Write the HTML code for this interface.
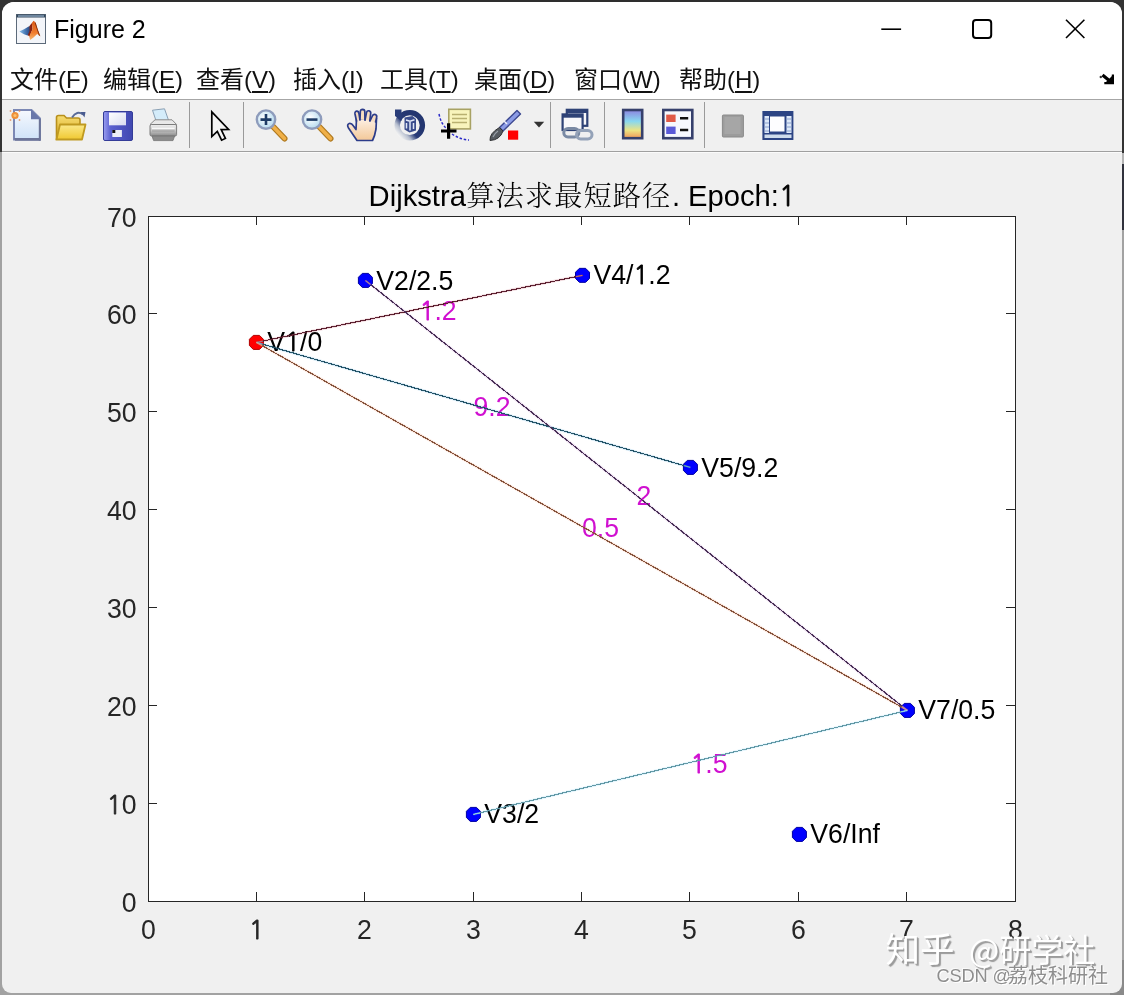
<!DOCTYPE html>
<html><head><meta charset="utf-8"><title>Figure 2</title>
<style>
html,body{margin:0;padding:0;width:1124px;height:995px;overflow:hidden;}
body{position:relative;background:#a2a2a2;}
.bd{position:absolute;}
#win{position:absolute;left:2px;top:2px;width:1120px;height:991px;background:#f0f0f0;border-radius:12px 12px 9px 9px;overflow:hidden;}
#tb{position:absolute;left:0;top:0;width:1120px;height:97px;background:#fff;border-bottom:1px solid #a6a6a6;}
#tools{position:absolute;left:0;top:98px;width:1120px;height:51px;background:#f0f0f0;border-bottom:1px solid #a0a0a0;}
.t{position:absolute;white-space:nowrap;}
.ui{font-family:"Liberation Sans","Noto Sans CJK SC",sans-serif;color:#000;}
.menu{position:absolute;top:64px;font-size:24px;line-height:32px;font-family:"Liberation Sans","Noto Sans CJK SC",sans-serif;color:#111;white-space:nowrap;}
.menu u{text-decoration:underline;text-underline-offset:3px;text-decoration-thickness:2px;}
svg{position:absolute;left:0;top:0;}
svg text{stroke-width:0;}
svg text .n1{stroke-width:0.75px;}
.wm1{position:absolute;top:926px;font-family:"Noto Sans CJK SC",sans-serif;font-size:32px;line-height:44px;color:#fff;white-space:nowrap;text-shadow:2px 2px 1px #9a9a9a,1px 1px 0 #bdbdbd;}
.wm2{position:absolute;font-family:"Liberation Sans","Noto Sans CJK SC",sans-serif;line-height:24px;color:#8e8e8e;white-space:nowrap;text-shadow:1px 1px 0 #fff,-1px -1px 0 #fafafa;}
</style></head>
<body>
<div class="bd" style="left:0;top:0;width:1124px;height:14px;background:#2e2e2e"></div>
<div class="bd" style="left:0;top:0;width:14px;height:152px;background:#333"></div>
<div class="bd" style="left:1110px;top:0;width:14px;height:153px;background:#333"></div>
<div class="bd" style="left:1110px;top:153px;width:14px;height:11px;background:#b4b4b4"></div>
<div class="bd" style="left:1110px;top:164px;width:14px;height:66px;background:#30323c"></div>
<div class="bd" style="left:1110px;top:960px;width:14px;height:35px;background:#8a8a8a"></div>
<div id="win">
  <div id="tb"></div>
  <div id="tools"></div>
  <div style="position:absolute;left:0;top:150px;width:1120px;height:1px;background:#fbfbfb"></div>
</div>

<!-- title bar -->
<div class="t ui" style="left:54px;top:13px;font-size:25px;line-height:32px;">Figure 2</div>

<!-- menu -->
<div class="menu" style="left:10px">文件(<u>F</u>)</div>
<div class="menu" style="left:103px">编辑(<u>E</u>)</div>
<div class="menu" style="left:196px">查看(<u>V</u>)</div>
<div class="menu" style="left:293px">插入(<u>I</u>)</div>
<div class="menu" style="left:380px">工具(<u>T</u>)</div>
<div class="menu" style="left:474px">桌面(<u>D</u>)</div>
<div class="menu" style="left:574px">窗口(<u>W</u>)</div>
<div class="menu" style="left:679px">帮助(<u>H</u>)</div>

<!-- icons -->
<svg width="1124" height="160" viewBox="0 0 1124 160">
<defs>
  <linearGradient id="gPage" x1="0" y1="0" x2="0" y2="1"><stop offset="0" stop-color="#f6f9fe"/><stop offset="1" stop-color="#cfe2f8"/></linearGradient>
  <linearGradient id="gFold" x1="0" y1="0" x2="0" y2="1"><stop offset="0" stop-color="#fbe98a"/><stop offset="1" stop-color="#f0c830"/></linearGradient>
  <linearGradient id="gFoldB" x1="0" y1="0" x2="0" y2="1"><stop offset="0" stop-color="#f6dc70"/><stop offset="1" stop-color="#d8a820"/></linearGradient>
  <linearGradient id="gFlop" x1="0" y1="0" x2="1" y2="0"><stop offset="0" stop-color="#9a9ef0"/><stop offset="0.25" stop-color="#5a60d0"/><stop offset="1" stop-color="#4048b0"/></linearGradient>
  <linearGradient id="gLabel" x1="0" y1="0" x2="1" y2="1"><stop offset="0" stop-color="#ffffff"/><stop offset="1" stop-color="#d8dcf0"/></linearGradient>
  <linearGradient id="gPrn" x1="0" y1="0" x2="0" y2="1"><stop offset="0" stop-color="#f0f0f0"/><stop offset="0.5" stop-color="#c8c8c8"/><stop offset="1" stop-color="#8a8a8a"/></linearGradient>
  <radialGradient id="gLens" cx="0.4" cy="0.4" r="0.6"><stop offset="0" stop-color="#ffffff"/><stop offset="1" stop-color="#b8dcf0"/></radialGradient>
  <linearGradient id="gHand" x1="0" y1="0" x2="0" y2="1"><stop offset="0" stop-color="#fdf0e4"/><stop offset="1" stop-color="#f3c898"/></linearGradient>
  <linearGradient id="gCbar" x1="0" y1="0" x2="0" y2="1"><stop offset="0" stop-color="#8c84e0"/><stop offset="0.4" stop-color="#88d8f0"/><stop offset="0.72" stop-color="#ece484"/><stop offset="1" stop-color="#f09858"/></linearGradient>
  <linearGradient id="gRot" x1="0" y1="0.85" x2="0.6" y2="0.3"><stop offset="0" stop-color="#f4f4f4"/><stop offset="0.3" stop-color="#b8c0d0"/><stop offset="0.6" stop-color="#2a3c78"/><stop offset="1" stop-color="#243670"/></linearGradient>
  <linearGradient id="gML" x1="0" y1="0" x2="1" y2="0"><stop offset="0" stop-color="#5c9ad0"/><stop offset="0.45" stop-color="#2a4a86"/><stop offset="0.55" stop-color="#a02810"/><stop offset="0.75" stop-color="#f07020"/><stop offset="1" stop-color="#8a3a10"/></linearGradient>
  <linearGradient id="gBlue" x1="0" y1="0" x2="1" y2="0"><stop offset="0" stop-color="#8cc0ea"/><stop offset="0.5" stop-color="#4a7cb8"/><stop offset="1" stop-color="#263c74"/></linearGradient>
  <linearGradient id="gOr" x1="0" y1="0" x2="0" y2="1"><stop offset="0" stop-color="#d85a18"/><stop offset="0.6" stop-color="#f07a2a"/><stop offset="1" stop-color="#f8b870"/></linearGradient>
</defs>

<!-- title bar icon -->
<g>
  <rect x="16.5" y="14.5" width="29" height="29" fill="#f3f5f9" stroke="#5c6a7a" stroke-width="1"/>
  <rect x="16.5" y="14.5" width="29" height="3" fill="#34485c"/>
  <line x1="18" y1="16" x2="44" y2="16" stroke="#a8c4e0" stroke-width="1"/>
  <path d="M19.3,31.6 L24,29.2 L29.5,26 L31,28.5 L29,34.5 L27.5,35.5 L24,34.2 Z" fill="url(#gBlue)"/>
  <path d="M29.5,26 L31.8,23 L32.6,29 L29.6,36.5 L27.8,35.2 L29.6,31 Z" fill="#8a2412"/>
  <path d="M31.8,23 L33.6,20.8 L35.6,22.6 L37.6,29 L40.3,36.2 L37.2,34 L33.5,37.5 L30.2,40 L29.2,36.6 L32.6,29 Z" fill="url(#gOr)"/>
  <path d="M35.6,22.6 L37.6,29 L40.3,36.2 L38.8,35.2 L36.4,28 L34.8,23.2 Z" fill="#803010"/>
</g>

<!-- window buttons -->
<g stroke="#000" fill="none" stroke-width="1.6">
  <line x1="881.3" y1="29.2" x2="901.1" y2="29.2"/>
  <rect x="973" y="20" width="18.2" height="18" rx="3" ry="3" stroke-width="2"/>
  <line x1="1066" y1="19.8" x2="1084.4" y2="38"/>
  <line x1="1084.4" y1="19.8" x2="1066" y2="38"/>
</g>

<!-- menu right arrow -->
<g fill="#000">
  <line x1="1102.5" y1="75" x2="1111" y2="82" stroke="#000" stroke-width="3.2"/>
  <path d="M1114,74.5 L1114,84.2 L1104.3,84.2 L1104.3,82 L1111.8,82 L1111.8,74.5 Z"/>
  <path d="M1106,82 L1112,76 L1112,82 Z"/>
  <circle cx="1100.8" cy="77" r="1.2" fill="#333"/>
</g>

<!-- toolbar separators -->
<g stroke="#9a9a9a" stroke-width="1">
  <line x1="189.5" y1="102" x2="189.5" y2="148"/>
  <line x1="243.5" y1="102" x2="243.5" y2="148"/>
  <line x1="550.5" y1="102" x2="550.5" y2="148"/>
  <line x1="604.5" y1="102" x2="604.5" y2="148"/>
  <line x1="704.5" y1="102" x2="704.5" y2="148"/>
</g>

<!-- 1 new -->
<g>
  <path d="M14,110 L31.5,110 L40,118.5 L40,139.5 L14,139.5 Z" fill="url(#gPage)" stroke="#7c88b4" stroke-width="2"/>
  <path d="M14,138 L40,138 L40,140.8 L15,140.8 Z" fill="#6c7498"/>
  <path d="M38.8,119 L40.8,119 L40.8,140.8 L38.8,140.8 Z" fill="#6c7498"/>
  <path d="M31,109.5 L40.8,119.3 L31,119.3 Z" fill="#6a78aa"/>
  <circle cx="15" cy="115.5" r="3.6" fill="#f09038"/>
  <circle cx="15" cy="115.5" r="1.6" fill="#fbc070"/>
  <g fill="#e88a50" opacity="0.8"><circle cx="10.5" cy="111" r="0.9"/><circle cx="19.5" cy="111" r="0.9"/><circle cx="10.5" cy="120" r="0.9"/><circle cx="19.5" cy="120" r="0.9"/></g>
</g>

<!-- 2 open -->
<g>
  <path d="M56.5,139 L56.5,117.5 Q56.5,115.5 58.5,115.5 L64,115.5 L66.5,118 L78,118 Q80,118 80,120 L80,124 Z" fill="url(#gFoldB)" stroke="#b8901c" stroke-width="1.6"/>
  <path d="M60,124.5 L85.5,124.5 L82,139.5 L56.5,139.5 Z" fill="url(#gFold)" stroke="#c09a20" stroke-width="1.8" stroke-linejoin="round"/>
  <path d="M72,117.5 Q77,110 83,114.5" fill="none" stroke="#5a6c98" stroke-width="2"/>
  <path d="M80.5,112 L85.5,112 L84.5,117.5 Z" fill="#4a5c90"/>
</g>

<!-- 3 save -->
<g>
  <rect x="103.5" y="111.5" width="29" height="29" rx="1.5" fill="url(#gFlop)" stroke="#343c98" stroke-width="1"/>
  <rect x="109" y="112.5" width="17" height="12.8" fill="url(#gLabel)"/>
  <rect x="112.3" y="130" width="9.6" height="7" fill="#eceef6"/>
  <rect x="112.3" y="130" width="3" height="3" fill="#111"/>
</g>

<!-- 4 print -->
<g>
  <path d="M152.5,110.2 L164.5,108.8 L168.8,121 L156.5,122.2 Z" fill="#d4ecfa" stroke="#8aa0b4" stroke-width="1"/>
  <path d="M150,124.5 L155,119.8 L172,119.8 L176.6,124.5 Z" fill="#e8e8e8" stroke="#8a8a8a" stroke-width="1"/>
  <rect x="150" y="124.5" width="26.6" height="11.5" rx="1.5" fill="url(#gPrn)" stroke="#7c7c7c" stroke-width="1"/>
  <line x1="152" y1="128.3" x2="174.6" y2="128.3" stroke="#f8f8f8" stroke-width="1.4"/>
  <line x1="152" y1="131" x2="174.6" y2="131" stroke="#9a9a9a" stroke-width="1"/>
  <path d="M152,136 L174.6,136 L173,140.6 L153.6,140.6 Z" fill="#8c8c8c" stroke="#727272" stroke-width="0.8"/>
</g>

<!-- 5 arrow -->
<path d="M211.8,111.8 L211.8,136.5 L217.3,131.3 L221.6,140.2 L225.4,138.4 L221.2,129.6 L228.6,129.4 Z" fill="#f4f4f4" stroke="#000" stroke-width="1.7" stroke-linejoin="miter"/>

<!-- 6 zoom in -->
<g>
  <line x1="273.5" y1="127" x2="284.5" y2="138.5" stroke="#b07a20" stroke-width="6" stroke-linecap="round"/>
  <line x1="273.5" y1="127" x2="284.5" y2="138.5" stroke="#f0b048" stroke-width="3.6" stroke-linecap="round"/>
  <circle cx="266" cy="119.6" r="9.2" fill="url(#gLens)" stroke="#8e9cbc" stroke-width="2.4"/>
  <path d="M260.5,119.6 H271.5 M266,114.1 V125.1" stroke="#1e3c66" stroke-width="2.6"/>
</g>

<!-- 7 zoom out -->
<g>
  <line x1="319.5" y1="127" x2="330.5" y2="138.5" stroke="#b07a20" stroke-width="6" stroke-linecap="round"/>
  <line x1="319.5" y1="127" x2="330.5" y2="138.5" stroke="#f0b048" stroke-width="3.6" stroke-linecap="round"/>
  <circle cx="312" cy="119.6" r="9.2" fill="url(#gLens)" stroke="#8e9cbc" stroke-width="2.4"/>
  <path d="M306.5,119.6 H317.5" stroke="#1e3c66" stroke-width="2.6"/>
</g>

<!-- 8 hand -->
<g stroke="#2c3c8a" stroke-width="1.7" stroke-linejoin="round" stroke-linecap="round">
  <path d="M357,140.5 L348.5,128 Q346.5,124.5 349.2,123.5 Q351.5,123 353.5,126 L356,129.5 L356.5,119 L376.5,118.5 L376,129 Q375,135.5 372.5,140.5 Z" fill="url(#gHand)"/>
  <path d="M356.5,121 L355,114 Q354.6,111.5 356.6,111.2 Q358.6,111 359,113.5 L360,120" fill="#f6dcc0"/>
  <path d="M360,119.5 L360.3,111.5 Q360.5,109.3 362.6,109.3 Q364.8,109.4 364.8,111.6 L365,120" fill="#f6dcc0"/>
  <path d="M365,120 L366.5,112.5 Q367,110.5 369,110.8 Q371,111.2 370.7,113.5 L369.8,120.5" fill="#f6dcc0"/>
  <path d="M370,121 L372.6,115.5 Q373.6,113.8 375.4,114.6 Q377.2,115.5 376.6,117.5 L375.6,122" fill="#f6dcc0"/>
</g>
<!-- 9 rotate -->
<g>
  <circle cx="409.8" cy="125.2" r="12.6" fill="none" stroke="url(#gRot)" stroke-width="5.4"/>
  <path d="M395,109.5 L401.5,109.5 L401.5,121 L395,116 Z" fill="#283c78"/>
  <path d="M404.5,117.5 L412.5,116 L416,119 L416,130.5 L409.5,132.5 L404.5,129.5 Z" fill="#3a4c8c"/>
  <path d="M406,120 L410,121.3 L414.5,119.8 M410,121.3 L410,130.5 M406.5,123 L406.5,128.5 M413.5,123 L413.5,129" fill="none" stroke="#dfe6f6" stroke-width="1.5"/>
</g>
<!-- 10 data cursor -->
<g>
  <rect x="448.8" y="109.3" width="21.6" height="19.6" fill="#f8f4bc" stroke="#a8a264" stroke-width="1.6"/>
  <path d="M452,114.5 H467 M452,118.5 H467 M452,122.5 H467" stroke="#b8b070" stroke-width="1.4"/>
  <path d="M439,114 Q441,124 447,129 M452,134 Q460,139.5 469,140" fill="none" stroke="#2a2ac8" stroke-width="1.5" stroke-dasharray="2.5 1.8"/>
  <path d="M441,131 H456.5 M448.6,123.2 V138.8" stroke="#000" stroke-width="3.2"/>
</g>

<!-- 11 brush -->
<g>
  <path d="M517,110.5 L520.5,114 L503,131 L499.5,127.5 Z" fill="#8c9ce6" stroke="#3c4890" stroke-width="1.4" stroke-linejoin="round"/>
  <line x1="507" y1="124" x2="504" y2="121" stroke="#f0f0f8" stroke-width="1.5"/>
  <path d="M499.5,127.5 L503,131 Q500,140 490,140.5 Q489.5,133 499.5,127.5 Z" fill="#555a60" stroke="#303234" stroke-width="1"/>
  <path d="M493,137 Q495,133 498,131" stroke="#9aa0a8" stroke-width="1.2" fill="none"/>
  <rect x="508" y="130.5" width="10.2" height="9.2" fill="#ff0000"/>
  <path d="M533.8,121.8 L544.2,121.8 L539,127.6 Z" fill="#333"/>
</g>

<!-- 12 link -->
<g>
  <rect x="566.8" y="109.8" width="20.5" height="16" fill="#f8f8fa" stroke="#2e4276" stroke-width="2.2"/>
  <line x1="566.8" y1="111.5" x2="587.3" y2="111.5" stroke="#2e4276" stroke-width="3"/>
  <rect x="562.6" y="114.4" width="20" height="15.6" fill="#f8f8fa" stroke="#2e4276" stroke-width="2.2"/>
  <line x1="562.6" y1="116.2" x2="582.6" y2="116.2" stroke="#2e4276" stroke-width="3"/>
  <rect x="563.8" y="128.5" width="15" height="8.5" rx="4.2" fill="none" stroke="#7a8aa4" stroke-width="3"/>
  <rect x="576.5" y="130.5" width="15.5" height="8.5" rx="4.2" fill="none" stroke="#94a2b8" stroke-width="3"/>
</g>

<!-- 13 colorbar -->
<rect x="623.2" y="110" width="19" height="28.2" fill="url(#gCbar)" stroke="#36406c" stroke-width="2.6"/>

<!-- 14 legend -->
<g>
  <rect x="663.3" y="110" width="29" height="28.2" fill="#f6f8fe" stroke="#36406c" stroke-width="2.6"/>
  <rect x="666.2" y="114.6" width="9.4" height="7.4" fill="#e05a48"/>
  <rect x="666.2" y="126.6" width="9.4" height="7.4" fill="#5a5ad8"/>
  <path d="M680,118.2 H688.2 M680,130 H688.2" stroke="#111" stroke-width="2.4"/>
</g>

<!-- 15 grey box -->
<g>
  <rect x="722.4" y="115" width="21" height="22" rx="1" fill="#9c9c9c" stroke="#8a8a8a" stroke-width="1"/>
  <rect x="724.5" y="117" width="16" height="17" fill="#a6a6a6"/>
</g>

<!-- 16 plot tools -->
<g>
  <rect x="762.4" y="111" width="31" height="29" fill="#2c4484"/>
  <rect x="764.5" y="116" width="4.5" height="17" fill="#dde8f8"/>
  <rect x="786.5" y="116" width="5" height="17" fill="#dde8f8"/>
  <rect x="764.5" y="134.5" width="27" height="3.5" fill="#cfdcec"/>
  <rect x="770" y="116.5" width="14.5" height="15" fill="#fdfdff"/>
  <path d="M764.5,119 H769 M764.5,123 H769 M764.5,127 H769 M764.5,131 H769 M786.5,119 H791.5 M786.5,123 H791.5 M786.5,127 H791.5 M786.5,131 H791.5" stroke="#8aa0cc" stroke-width="1"/>
</g>

</svg>

<!-- plot -->
<svg width="1124" height="995" viewBox="0 0 1124 995">
<rect x="148.5" y="216.5" width="867" height="685" fill="#fff" stroke="#262626" stroke-width="1"/>
<path d="M256.5 901V892M256.5 216V225M364.5 901V892M364.5 216V225M473.5 901V892M473.5 216V225M581.5 901V892M581.5 216V225M689.5 901V892M689.5 216V225M798.5 901V892M798.5 216V225M906.5 901V892M906.5 216V225M148 803.5H157M1015 803.5H1006M148 705.5H157M1015 705.5H1006M148 607.5H157M1015 607.5H1006M148 509.5H157M1015 509.5H1006M148 411.5H157M1015 411.5H1006M148 313.5H157M1015 313.5H1006" stroke="#262626" stroke-width="1" fill="none" shape-rendering="crispEdges"/>
<g font-family="Liberation Sans, Arial, Helvetica, sans-serif" font-size="26.67" fill="#262626" stroke="#262626">
<text transform="translate(148.50,939.00) scale(1,1.04)" text-anchor="middle">0</text>
<text transform="translate(256.50,939.00) scale(1,1.04)" text-anchor="middle"><tspan font-family="NanumGothic" font-size="24.71" class="n1">1</tspan></text>
<text transform="translate(364.50,939.00) scale(1,1.04)" text-anchor="middle">2</text>
<text transform="translate(473.50,939.00) scale(1,1.04)" text-anchor="middle">3</text>
<text transform="translate(581.50,939.00) scale(1,1.04)" text-anchor="middle">4</text>
<text transform="translate(689.50,939.00) scale(1,1.04)" text-anchor="middle">5</text>
<text transform="translate(798.50,939.00) scale(1,1.04)" text-anchor="middle">6</text>
<text transform="translate(906.50,939.00) scale(1,1.04)" text-anchor="middle">7</text>
<text transform="translate(1015.50,939.00) scale(1,1.04)" text-anchor="middle">8</text>
<text transform="translate(136.60,912.00) scale(1,1.04)" text-anchor="end">0</text>
<text transform="translate(136.60,814.00) scale(1,1.04)" text-anchor="end"><tspan font-family="NanumGothic" font-size="24.71" class="n1">1</tspan>0</text>
<text transform="translate(136.60,716.00) scale(1,1.04)" text-anchor="end">20</text>
<text transform="translate(136.60,618.00) scale(1,1.04)" text-anchor="end">30</text>
<text transform="translate(136.60,520.00) scale(1,1.04)" text-anchor="end">40</text>
<text transform="translate(136.60,422.00) scale(1,1.04)" text-anchor="end">50</text>
<text transform="translate(136.60,324.00) scale(1,1.04)" text-anchor="end">60</text>
<text transform="translate(136.60,227.00) scale(1,1.04)" text-anchor="end">70</text>
</g>
<g font-size="29.2" fill="#000" stroke="#000" font-family="Liberation Sans, Arial, sans-serif"><text transform="translate(368.6,205.9) scale(1,1.04)">Dijkstra</text><text transform="translate(671.9,205.9) scale(1,1.04)">. Epoch:<tspan font-family="NanumGothic" font-size="27.06" class="n1">1</tspan></text></g>
<text x="466.3" y="206.4" font-size="28.2" letter-spacing="1.1" fill="#000" font-family="Noto Serif CJK SC, serif" font-weight="300">算法求最短路径</text>
<polygon points="253.30,335.40 259.50,335.40 263.40,339.30 263.40,345.50 259.50,349.40 253.30,349.40 249.40,345.50 249.40,339.30" fill="#ff0000" stroke="#b00000" stroke-width="1"/>
<polygon points="362.30,273.40 368.50,273.40 372.40,277.30 372.40,283.50 368.50,287.40 362.30,287.40 358.40,283.50 358.40,277.30" fill="#0000ff" stroke="#0000a0" stroke-width="1"/>
<polygon points="470.30,807.40 476.50,807.40 480.40,811.30 480.40,817.50 476.50,821.40 470.30,821.40 466.40,817.50 466.40,811.30" fill="#0000ff" stroke="#0000a0" stroke-width="1"/>
<polygon points="579.40,268.35 585.60,268.35 589.50,272.25 589.50,278.45 585.60,282.35 579.40,282.35 575.50,278.45 575.50,272.25" fill="#0000ff" stroke="#0000a0" stroke-width="1"/>
<polygon points="687.30,460.40 693.50,460.40 697.40,464.30 697.40,470.50 693.50,474.40 687.30,474.40 683.40,470.50 683.40,464.30" fill="#0000ff" stroke="#0000a0" stroke-width="1"/>
<polygon points="796.30,827.40 802.50,827.40 806.40,831.30 806.40,837.50 802.50,841.40 796.30,841.40 792.40,837.50 792.40,831.30" fill="#0000ff" stroke="#0000a0" stroke-width="1"/>
<polygon points="904.30,703.40 910.50,703.40 914.40,707.30 914.40,713.50 910.50,717.40 904.30,717.40 900.40,713.50 900.40,707.30" fill="#0000ff" stroke="#0000a0" stroke-width="1"/>
<g font-family="Liberation Sans, Arial, Helvetica, sans-serif" font-size="26.67" fill="#000" stroke="#000">
<text transform="translate(267.30,351.40) scale(1,1.04)" >V<tspan font-family="NanumGothic" font-size="24.71" class="n1">1</tspan>/0</text>
<text transform="translate(376.30,289.60) scale(1,1.04)" >V2/2.5</text>
<text transform="translate(484.30,822.50) scale(1,1.04)" >V3/2</text>
<text transform="translate(593.40,283.70) scale(1,1.04)" >V4/<tspan font-family="NanumGothic" font-size="24.71" class="n1">1</tspan>.2</text>
<text transform="translate(701.30,476.60) scale(1,1.04)" >V5/9.2</text>
<text transform="translate(810.30,842.50) scale(1,1.04)" >V6/Inf</text>
<text transform="translate(918.30,718.70) scale(1,1.04)" >V7/0.5</text>
</g>
<g font-family="Liberation Sans, Arial, Helvetica, sans-serif" font-size="26.67" fill="#d010d0" stroke="#d010d0">
<text transform="translate(419.45,319.88) scale(1,1.04)" ><tspan font-family="NanumGothic" font-size="24.71" class="n1">1</tspan>.2</text>
<text transform="translate(473.40,415.90) scale(1,1.04)" >9.2</text>
<text transform="translate(581.90,537.30) scale(1,1.04)" >0.5</text>
<text transform="translate(636.40,505.30) scale(1,1.04)" >2</text>
<text transform="translate(690.40,772.60) scale(1,1.04)" ><tspan font-family="NanumGothic" font-size="24.71" class="n1">1</tspan>.5</text>
</g>
<line x1="256.4" y1="342.4" x2="582.5" y2="275.35" stroke="#a2142f" stroke-width="2.6" stroke-opacity="0.18"/>
<line x1="256.4" y1="342.4" x2="690.4" y2="467.4" stroke="#0072bd" stroke-width="2.6" stroke-opacity="0.18"/>
<line x1="256.4" y1="342.4" x2="907.4" y2="710.4" stroke="#d95319" stroke-width="2.6" stroke-opacity="0.18"/>
<line x1="365.4" y1="280.4" x2="907.4" y2="710.4" stroke="#7e2f8e" stroke-width="2.6" stroke-opacity="0.18"/>
<line x1="473.4" y1="814.4" x2="907.4" y2="710.4" stroke="#4dbeee" stroke-width="2.6" stroke-opacity="0.18"/>
<line x1="256.4" y1="342.4" x2="582.5" y2="275.35" stroke="#5c2030" stroke-width="1.15" shape-rendering="crispEdges"/>
<line x1="256.4" y1="342.4" x2="690.4" y2="467.4" stroke="#245468" stroke-width="1.15" shape-rendering="crispEdges"/>
<line x1="256.4" y1="342.4" x2="907.4" y2="710.4" stroke="#86553e" stroke-width="1.15" shape-rendering="crispEdges"/>
<line x1="365.4" y1="280.4" x2="907.4" y2="710.4" stroke="#4a3258" stroke-width="1.15" shape-rendering="crispEdges"/>
<line x1="473.4" y1="814.4" x2="907.4" y2="710.4" stroke="#6299a6" stroke-width="1.15" shape-rendering="crispEdges"/>
<line x1="256.40" y1="342.40" x2="262.77" y2="341.09" stroke="#cb7d8c" stroke-width="1.3" stroke-opacity="0.85"/>
<line x1="582.50" y1="275.35" x2="576.13" y2="276.66" stroke="#cb7d8c" stroke-width="1.3" stroke-opacity="0.85"/>
<line x1="256.40" y1="342.40" x2="262.65" y2="344.20" stroke="#72b1da" stroke-width="1.3" stroke-opacity="0.85"/>
<line x1="690.40" y1="467.40" x2="684.15" y2="465.60" stroke="#72b1da" stroke-width="1.3" stroke-opacity="0.85"/>
<line x1="256.40" y1="342.40" x2="262.06" y2="345.60" stroke="#eaa080" stroke-width="1.3" stroke-opacity="0.85"/>
<line x1="907.40" y1="710.40" x2="901.74" y2="707.20" stroke="#eaa080" stroke-width="1.3" stroke-opacity="0.85"/>
<line x1="365.40" y1="280.40" x2="370.49" y2="284.44" stroke="#b88cc0" stroke-width="1.3" stroke-opacity="0.85"/>
<line x1="907.40" y1="710.40" x2="902.31" y2="706.36" stroke="#b88cc0" stroke-width="1.3" stroke-opacity="0.85"/>
<line x1="473.40" y1="814.40" x2="479.72" y2="812.89" stroke="#9ddbf5" stroke-width="1.3" stroke-opacity="0.85"/>
<line x1="907.40" y1="710.40" x2="901.08" y2="711.91" stroke="#9ddbf5" stroke-width="1.3" stroke-opacity="0.85"/>
</svg>
<!-- watermark -->
<div class="wm1" style="left:885.5px;top:924.5px;font-size:34.5px">知乎</div>
<div class="wm1" style="left:969px">@研学社</div>
<div class="wm2" style="left:936.5px;top:964px;font-size:18.3px;letter-spacing:-0.2px">CSDN</div>
<div class="wm2" style="left:992.5px;top:964px;font-size:18.3px">@</div>
<div class="wm2" style="left:1008px;top:962.5px;font-size:20px;font-family:'Noto Sans CJK SC',sans-serif">荔枝科研社</div>
</body></html>
